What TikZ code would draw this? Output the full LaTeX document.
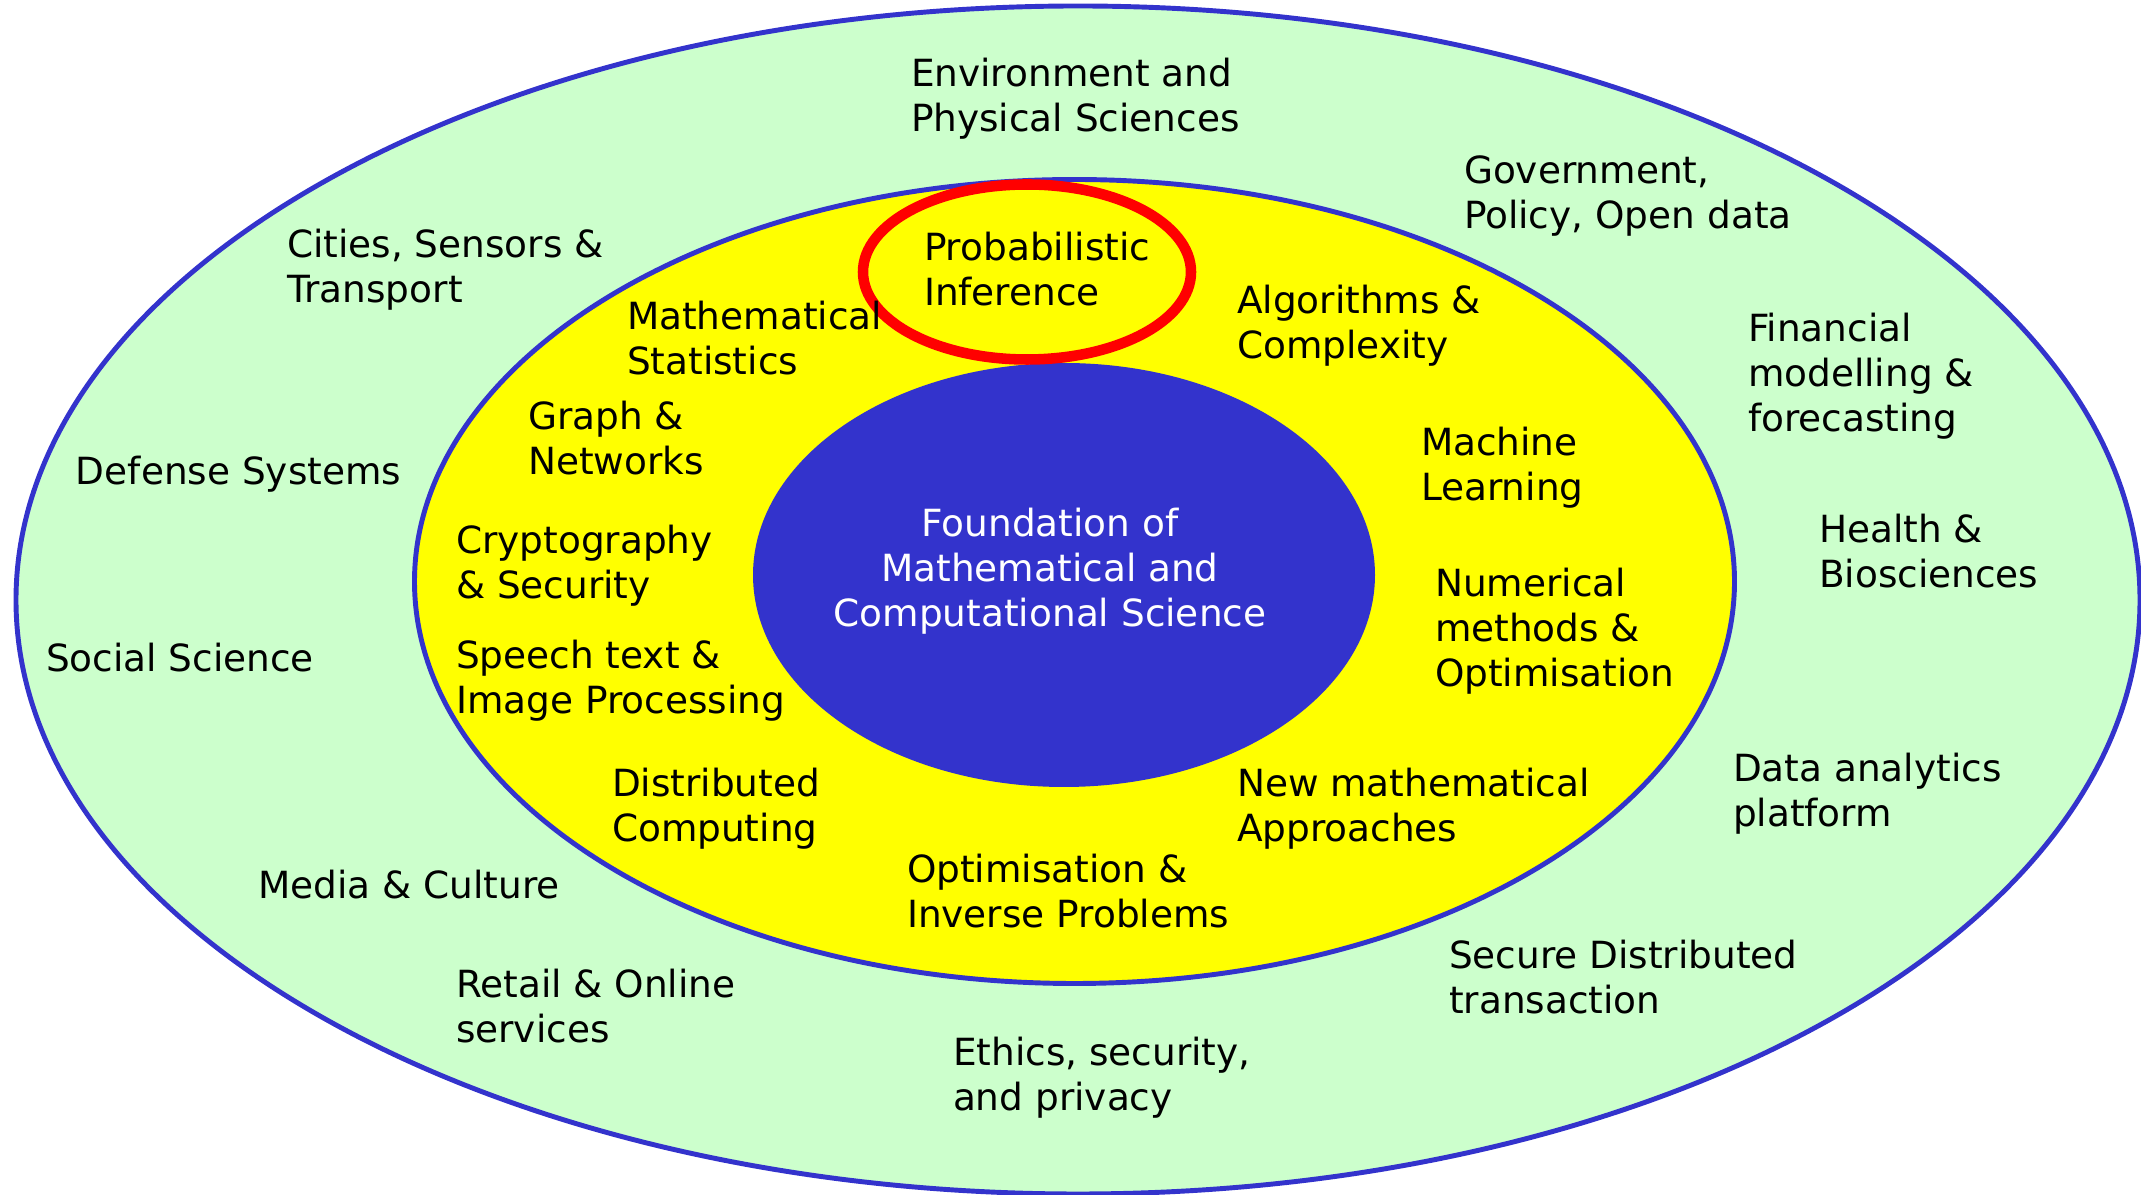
\documentclass[tikz,border=0pt]{standalone}
\usepackage{fontspec}
\setmainfont{DejaVu Sans}
\usepackage{tikz}
\definecolor{ringgreen}{RGB}{204,255,204}
\definecolor{ringyellow}{RGB}{255,255,0}
\definecolor{ringblue}{RGB}{51,51,204}
\definecolor{markred}{RGB}{255,0,0}
\tikzset{
    fieldlabel/.style = {
        align=left,
        anchor=west,
        inner sep=0pt,
        outer sep=0mm,
        yshift=-0.35mm,
        font=\fontsize{10.65}{12.8}\selectfont,
        text=black
    },
    corelabel/.style = {
        fieldlabel,
        align=center,
        anchor=center,
        text=white
    },
    ring/.style = {
        draw=ringblue,
        line width=1.4pt
    }
}

\begin{document}
\begin{tikzpicture}
            \useasboundingbox (0,0) rectangle (21.41,11.95);
            \clip (0,0) rectangle (21.41,11.95);

            % rings, outside in
            \filldraw [ring, fill=ringgreen] (10.78,5.95) ellipse [x radius=10.62cm, y radius=5.94cm];
            \filldraw [ring, fill=ringyellow] (10.745,6.135) ellipse [x radius=6.60cm, y radius=4.02cm];
            \fill [ringblue] (10.64,6.20) ellipse [x radius=3.11cm, y radius=2.12cm];
            \draw [markred, line width=3pt] (10.27,9.23) ellipse [x radius=1.64cm, y radius=0.875cm];

            \node [corelabel] (core) at (10.50,6.27) {Foundation of\\Mathematical and\\Computational Science};

            % methods
            \node [fieldlabel] (prob) at (9.24,9.29) {Probabilistic\\Inference};
            \node [fieldlabel] (mathstat) at (6.27,8.60) {Mathematical\\Statistics};
            \node [fieldlabel] (algo) at (12.37,8.73) {Algorithms \&\\Complexity};
            \node [fieldlabel] (graph) at (5.28,7.60) {Graph \&\\Networks};
            \node [fieldlabel] (ml) at (14.21,7.31) {Machine\\Learning};
            \node [fieldlabel] (crypto) at (4.56,6.33) {Cryptography\\\& Security};
            \node [fieldlabel] (numerical) at (14.35,5.67) {Numerical\\methods \&\\Optimisation};
            \node [fieldlabel] (speech) at (4.56,5.18) {Speech text \&\\Image Processing};
            \node [fieldlabel] (distrib) at (6.12,3.90) {Distributed\\Computing};
            \node [fieldlabel] (newmath) at (12.37,3.90) {New mathematical\\Approaches};
            \node [fieldlabel] (inverse) at (9.07,3.07) {Optimisation \&\\Inverse Problems};

            % applications
            \node [fieldlabel] (env) at (9.11,11.00) {Environment and\\Physical Sciences};
            \node [fieldlabel] (gov) at (14.64,10.02) {Government,\\Policy, Open data};
            \node [fieldlabel] (cities) at (2.87,9.29) {Cities, Sensors \&\\Transport};
            \node [fieldlabel] (finance) at (17.48,8.22) {Financial\\modelling \&\\forecasting};
            \node [fieldlabel] (defense) at (0.76,7.24) {Defense Systems};
            \node [fieldlabel] (health) at (18.19,6.47) {Health \&\\Biosciences};
            \node [fieldlabel] (social) at (0.46,5.41) {Social Science};
            \node [fieldlabel] (data) at (17.33,4.05) {Data analytics\\platform};
            \node [fieldlabel] (media) at (2.58,3.14) {Media \& Culture};
            \node [fieldlabel] (secure) at (14.49,2.21) {Secure Distributed\\transaction};
            \node [fieldlabel] (retail) at (4.56,1.92) {Retail \& Online\\services};
            \node [fieldlabel] (ethics) at (9.53,1.21) {Ethics, security,\\and privacy};
\end{tikzpicture}
\end{document}
